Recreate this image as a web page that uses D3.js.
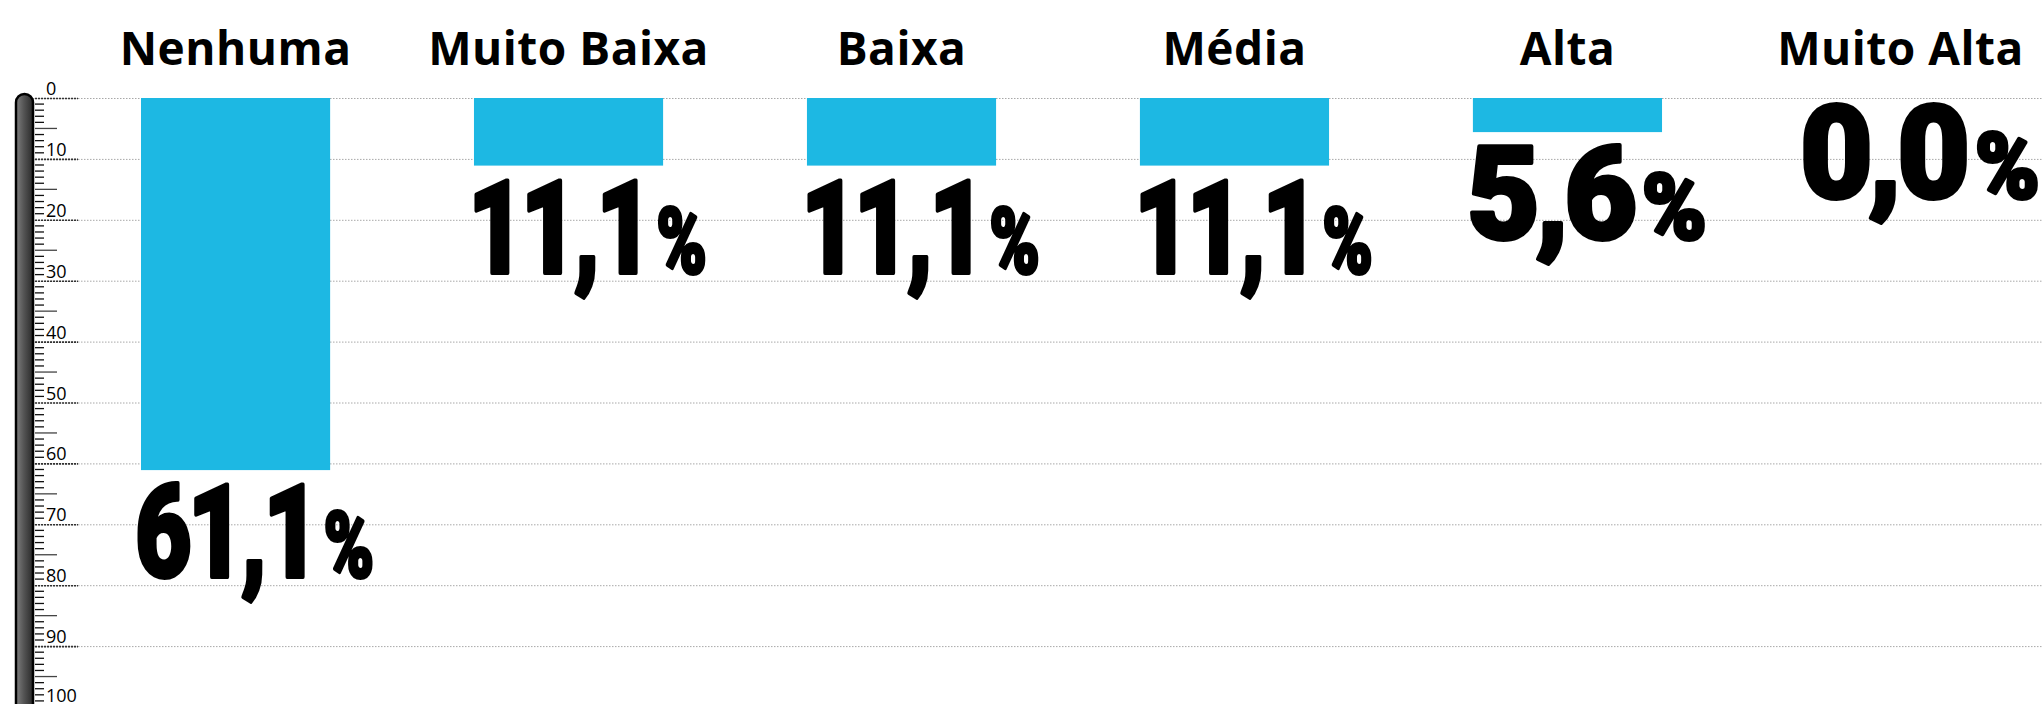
<!DOCTYPE html>
<html>
<head>
<meta charset="utf-8">
<title>Nível</title>
<script src="https://d3js.org/d3.v7.min.js"></script>
<style>
  body { margin: 0; background: #fff; }
  svg { display: block; }
  .cat { font-family: 'Open Sans', sans-serif; font-weight: 700; font-size: 46px; fill: #000; text-anchor: middle; letter-spacing: 0.5px; }
  .tick-label { font-family: 'Open Sans', sans-serif; font-weight: 400; font-size: 18px; fill: #000; }
  .val { font-family: Roboto, sans-serif; font-weight: 900; fill: #000; stroke: #000; stroke-width: 4px; stroke-linejoin: round; text-anchor: middle; }
</style>
</head>
<body>
<svg id="chart"></svg>
<script>
// data
const categories = ["Nenhuma", "Muito Baixa", "Baixa", "Média", "Alta", "Muito Alta"];
const values = [61.1, 11.1, 11.1, 11.1, 5.6, 0.0];
const yTicks = [0, 10, 20, 30, 40, 50, 60, 70, 80, 90, 100];

const W = 2043, H = 704;
const svg = d3.select("#chart").attr("width", W).attr("height", H);

const ptBR = d3.formatLocale({ decimal: ",", thousands: ".", grouping: [3], currency: ["R$", ""] });
const fmt = ptBR.format(".1f");

const x = d3.scaleBand().domain(categories).range([141, 1995]).paddingInner(0.432).paddingOuter(0);
const y = d3.scaleLinear().domain([0, 100]).range([98, 707]);

// gradient for the thermometer tube
const defs = svg.append("defs");
const grad = defs.append("linearGradient").attr("id", "tube").attr("x1", 0).attr("x2", 1).attr("y1", 0).attr("y2", 0);
grad.append("stop").attr("offset", "0%").attr("stop-color", "#808080");
grad.append("stop").attr("offset", "45%").attr("stop-color", "#555");
grad.append("stop").attr("offset", "100%").attr("stop-color", "#2a2a2a");

// grid lines
svg.append("g").selectAll("line").data(yTicks).join("line")
  .attr("x1", 33).attr("x2", W)
  .attr("y1", d => y(d) + 0.5).attr("y2", d => y(d) + 0.5)
  .attr("stroke", "#a8a8a8").attr("stroke-width", 1).attr("stroke-dasharray", "1.5,1.5");

// thermometer
svg.append("rect")
  .attr("x", 16).attr("y", 94).attr("width", 17).attr("height", H + 20)
  .attr("rx", 8.5).attr("fill", "url(#tube)")
  .attr("stroke", "#000").attr("stroke-width", 2.5);

// ruler ticks
const minor = d3.range(1, 101).filter(d => d % 10 !== 0);
svg.append("g").selectAll("line").data(minor).join("line")
  .attr("x1", 35).attr("x2", d => d % 5 === 0 ? 57 : 44)
  .attr("y1", d => y(d)).attr("y2", d => y(d))
  .attr("stroke", d => d % 5 === 0 ? "#444" : "#111").attr("stroke-width", 1.3);

svg.append("g").selectAll("line").data(yTicks).join("line")
  .attr("x1", 35).attr("x2", 78)
  .attr("y1", d => y(d) + 0.5).attr("y2", d => y(d) + 0.5)
  .attr("stroke", "#333").attr("stroke-width", 1.6).attr("stroke-dasharray", "2,1");

svg.append("g").selectAll("text").data(yTicks).join("text")
  .attr("class", "tick-label")
  .attr("x", 46).attr("y", d => Math.min(y(d) - 3, H - 2))
  .text(d => d);

// bars
svg.append("g").selectAll("rect").data(values).join("rect")
  .attr("x", (d, i) => x(categories[i]))
  .attr("y", y(0))
  .attr("width", x.bandwidth())
  .attr("height", d => y(d) - y(0))
  .attr("fill", "#1db8e3");

// category titles
svg.append("g").selectAll("text").data(categories).join("text")
  .attr("class", "cat")
  .attr("x", d => x(d) + x.bandwidth() / 2)
  .attr("y", 65)
  .text(d => d);

// value labels: condensed so every label ends up about the same width
const labels = svg.append("g").selectAll("g").data(values).join("g");
const t = labels.append("text").attr("class", "val").style("letter-spacing", "-5px");
t.append("tspan").attr("font-size", 130).text(d => fmt(d));
t.append("tspan").attr("font-size", 90).attr("dx", 10).text("%");

labels.attr("transform", function (d, i) {
  const w = this.querySelector("text").getBBox().width;
  const sx = 236 / w;
  const cx = x(categories[i]) + x.bandwidth() / 2 + 17;
  const base = y(d) + (d > 0 ? 107 : 100);
  return `translate(${cx},${base}) scale(${sx},1)`;
});
</script>
</body>
</html>
